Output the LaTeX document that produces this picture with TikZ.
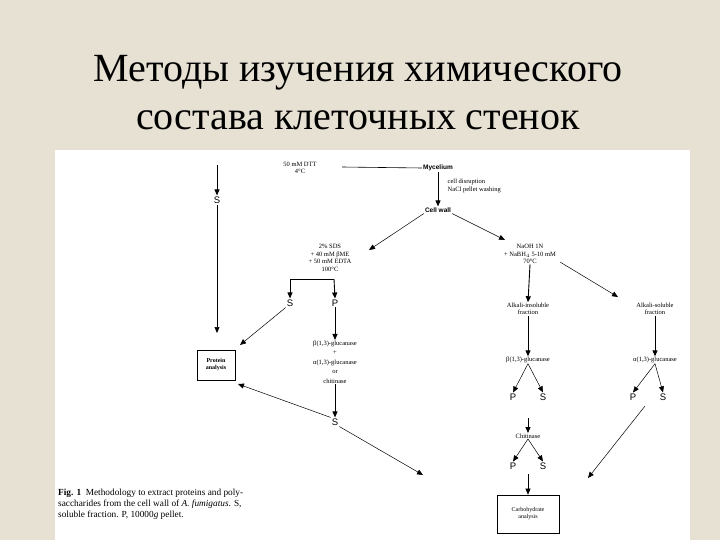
\documentclass[tikz,border=0pt]{standalone}
\usepackage{fontspec}
\setmainfont{Liberation Serif}
\newfontfamily\sansf{Liberation Sans}
\usetikzlibrary{arrows.meta}
\begin{document}
\begin{tikzpicture}[x=1pt,y=-1pt,
  t/.style={font=\fontsize{6.5}{7.5}\selectfont,align=center,inner sep=0.5pt},
  b/.style={font=\sansf\bfseries\fontsize{6.5}{7.5}\selectfont,inner sep=1pt},
  pf/.style={font=\sansf\fontsize{9.5}{10}\selectfont,inner sep=1pt},
  ar/.style={-{Triangle[length=6pt,width=5pt]},line width=0.9pt},
  thin ar/.style={-{Triangle[length=6pt,width=5pt]},line width=0.5pt},
  box/.style={draw,line width=0.6pt,font=\fontsize{6}{7}\selectfont,align=center}]
\fill[fill={rgb,255:red,231;green,225;blue,211}] (0,0) rectangle (720,540);
\useasboundingbox (0,0) rectangle (720,540);
\fill[white] (55,150) rectangle (690,540);
\node[font=\fontsize{40}{44}\selectfont] (title1) at (358,73) {Методы изучения химического};
\node[font=\fontsize{40}{44}\selectfont] (title2) at (358,120) {состава клеточных стенок};
% top
\node[t] (dtt) at (300,168) {50 mM DTT\\4°C};
\node[b] (my) at (438,168) {Mycelium};
\draw[line width=0.6pt] (my.west) -- (342,167);
\node[pf] (s0) at (217,200) {S};
\coordinate (s0top) at (217,165);
\draw[ar] (s0top) -- (s0.north);
\node[t,align=left,anchor=west] (dis) at (447,186) {cell disruption\\NaCl pellet washing};
\node[b] (cw) at (438,210) {Cell wall};
\draw[ar] (my) -- (cw);
% left branch
\node[t] (sds) at (330,258) {2\% SDS\\+ 40 mM βME\\+ 50 mM EDTA\\100°C};
\node[t] (naoh) at (530,254) {NaOH 1N\\+ NaBH$_4$ 5-10 mM\\70°C};
\draw[thin ar] (cw.south west) -- (369,250);
\draw[thin ar] (cw.south east) -- (505,240);
\node[pf] (s1) at (290,303) {S};
\node[pf] (p1) at (335,303) {P};
\coordinate (br) at (334,279);
\coordinate (bl) at (290,279);
\draw[line width=0.6pt] (br) -- (bl);
\draw[ar] (bl) -- (s1.north);
\draw[ar] (br) -- (p1.north);
\node[box,minimum width=38pt,minimum height=30pt,font=\bfseries\fontsize{6}{7}\selectfont] (prot) at (216,365) {Protein\\analysis};
\draw[line width=0.5pt,-{Triangle[length=6pt,width=5pt]}] (s0.south) -- (217,333);
\draw[thin ar] (s1.south west) -- (240,345);
\node[t,font=\fontsize{6.5}{9.5}\selectfont] (enz) at (335,362) {β(1,3)-glucanase\\+\\α(1,3)-glucanase\\or\\chitinase};
\draw[ar] (p1.south) -- (enz.north);
\node[pf] (s2) at (335,422) {S};
\draw[ar] (enz.south) -- (s2.north);
\draw[thin ar] (s2.north west) -- (238,384);
% right branch
\node[t] (ins) at (528,309) {Alkali-insoluble\\fraction};
\node[t] (sol) at (655,309) {Alkali-soluble\\fraction};
\draw[ar] (naoh.south) -- (ins.north);
\coordinate (ne) at (560,262);
\draw[thin ar] (ne) -- (618,297);
\node[t] (g1) at (528,360) {β(1,3)-glucanase};
\draw[ar] (ins.south) -- (g1.north);
\node[pf] (p3) at (513,397) {P};
\node[pf] (s3) at (543,397) {S};
\draw[thin ar] (g1.south) -- (p3.north);
\draw[thin ar] (g1.south) -- (s3.north);
\node[t] (g2) at (655,360) {α(1,3)-glucanase};
\draw[ar] (sol.south) -- (g2.north);
\node[pf] (p4) at (633,397) {P};
\node[pf] (s4) at (663,397) {S};
\draw[thin ar] (g2.south) -- (p4.north);
\draw[thin ar] (g2.south) -- (s4.north);
\node[t] (ch) at (528,436) {Chitinase};
\coordinate (cht) at (528,418);
\draw[ar] (cht) -- (ch.north);
\node[pf] (p5) at (513,466) {P};
\node[pf] (s5) at (543,466) {S};
\draw[thin ar] (ch.south) -- (p5.north);
\draw[thin ar] (ch.south) -- (s5.north);
\node[box,minimum width=62pt,minimum height=38pt] (carb) at (528,514) {Carbohydrate\\analysis};
\coordinate (pm) at (528,474);
\draw[thin ar] (pm) -- (carb.north);
\draw[thin ar] (s2.south east) -- (423,475);
\coordinate (s4b) at (645,406);
\draw[thin ar] (s4b) -- (588,478);
% caption
\node[anchor=north west,align=justify,text width=248pt,inner sep=0pt,font=\fontsize{9.3}{11}\selectfont] (cap) at (58,489) {\textbf{Fig. 1}\enspace Methodology to extract proteins and poly-\\saccharides from the cell wall of \textit{A. fumigatus}. S,\\soluble fraction. P, 10000\textit{g} pellet.\hfill\null};
\end{tikzpicture}
\end{document}
